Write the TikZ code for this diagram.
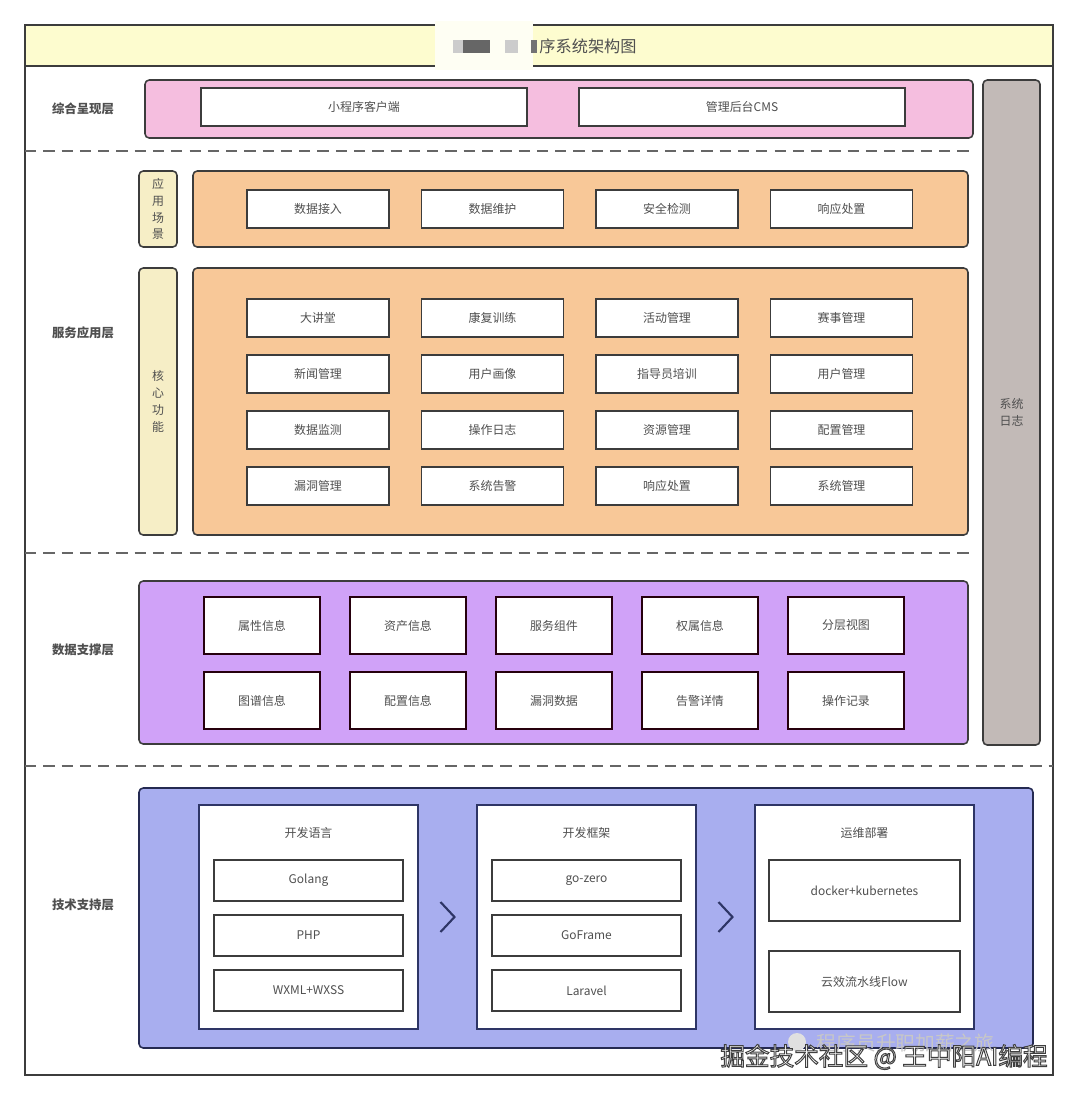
\documentclass[tikz,border=0pt]{standalone}
\usepackage{fontspec}
\setmainfont{Noto Sans CJK SC}
\usepackage{xcolor}
\usepackage{tikz}
\usetikzlibrary{positioning,calc}
\definecolor{linec}{HTML}{3C3C3C}
\definecolor{textc}{HTML}{4F4F4F}
\definecolor{titlebg}{HTML}{FDFCCF}
\definecolor{pinkbg}{HTML}{F5BEDF}
\definecolor{orangebg}{HTML}{F8C898}
\definecolor{sidebg}{HTML}{F6EEC6}
\definecolor{logbg}{HTML}{C2BAB7}
\definecolor{purplebg}{HTML}{D0A2F8}
\definecolor{bluebg}{HTML}{A8AEEF}
\definecolor{navy}{HTML}{2E3566}
\newcommand{\pxu}{0.025cm}
% outlined text: fill with the current colour, stroke in dark grey
\newcommand{\outlined}[1]{\special{pdf:literal direct 2 Tr 0.7 w 0.25 G}#1\special{pdf:literal direct 0 Tr}}
\tikzset{
	box/.style 2 args = {minimum width=#1*\pxu, minimum height=#2*\pxu, inner sep=0pt, outer sep=0pt},
	base/.style = {draw=linec, line width=1.1pt, font=\fontsize{8.5}{12}\selectfont, text=textc},
	layer/.style = {base, rounded corners=3pt},
	item/.style = {base, fill=white},
	side/.style = {layer, fill=sidebg, align=center},
	label/.style = {font=\bfseries\fontsize{8.8}{11}\selectfont, text=textc},
	ptitle/.style = {font=\fontsize{8.5}{12}\selectfont, text=textc, box={120}{20}},
	sep/.style = {draw=black!60, line width=0.9pt, dash pattern=on 8pt off 5pt},
	chev/.style = {draw=navy, line width=1.5pt},
	wm/.style = {font=\fontsize{17.5}{20}\selectfont, inner sep=0pt}
}

\begin{document}
\begin{tikzpicture}[x=\pxu, y=-\pxu]
	\useasboundingbox (0,0) rectangle (1080,1101);

	% outer frame and title bar
	\node[draw=linec, line width=1.1pt, box={1028}{1050}, anchor=north west] (frame) at (25,25) {};
	\node[draw=linec, line width=1.1pt, fill=titlebg, box={1028}{41}, anchor=north west] (titlebar) at (25,25) {};
	% blurred part of the title
	\fill[titlebg!25] (435,21) rectangle (533,70);
	\fill[black!20] (453,40) rectangle (463,53);
	\fill[black!60] (463,40) rectangle (490,53);
	\fill[black!20] (505,40) rectangle (518,53);
	\fill[black!55] (531,40) rectangle (537,53);
	\node[font=\fontsize{11.5}{14}\selectfont, text=textc] (title) at (588,46) {序系统架构图};

	% layer names
	\node[label] (l-show) at (83,109) {综合呈现层};
	\node[label] (l-app) at (83,333) {服务应用层};
	\node[label] (l-data) at (83,650) {数据支撑层};
	\node[label] (l-tech) at (83,905) {技术支持层};

	% separators
	\draw[sep] (25,151) -- (970,151);
	\draw[sep] (25,553) -- (970,553);
	\draw[sep] (25,766) -- (1053,766);

	% system log column
	\node[layer, fill=logbg, box={57}{665}, align=center] (syslog) at (1011.5,412.5) {系统\\日志};

	% presentation layer
	\node[layer, fill=pinkbg, box={828}{58}] (show) at (559,109) {};
	\node[item, box={326}{38}] (client) at (364,107) {小程序客户端};
	\node[item, box={326}{38}] (cms) at (742,107) {管理后台CMS};

	% application scenes
	\node[side, box={38}{76}] (scene-tag) at (158,209) {应\\用\\场\\景};
	\node[layer, fill=orangebg, box={775}{76}] (scene) at (580.5,209) {};
	\foreach \t [count=\c] in {数据接入,数据维护,安全检测,响应处置}
		\node[item, box={142}{38}] (scene-\c) at (318+174.5*\c-174.5,209) {\t};

	% core functions
	\node[side, box={38}{267}] (core-tag) at (158,401.5) {核\\心\\功\\能};
	\node[layer, fill=orangebg, box={775}{267}] (core) at (580.5,401.5) {};
	\foreach \r/\row in {1/{大讲堂,康复训练,活动管理,赛事管理},
		2/{新闻管理,用户画像,指导员培训,用户管理},
		3/{数据监测,操作日志,资源管理,配置管理},
		4/{漏洞管理,系统告警,响应处置,系统管理}}
		\foreach \t [count=\c] in \row
			\node[item, box={142}{38}] (core-\r-\c) at (318+174.5*\c-174.5,262+56*\r) {\t};

	% data layer
	\node[layer, fill=purplebg, box={829}{163}] (data) at (553.5,662.5) {};
	\foreach \r/\row in {1/{属性信息,资产信息,服务组件,权属信息,分层视图},
		2/{图谱信息,配置信息,漏洞数据,告警详情,操作记录}}
		\foreach \t [count=\c] in \row
			\node[item, draw=black!80!purple, box={116}{57}] (data-\r-\c) at (116+146*\c,550.5+75*\r) {\t};

	% technology layer
	\node[layer, fill=bluebg, draw=navy!80!black, box={894}{260}] (tech) at (586,918) {};
	\node[item, draw=navy, box={219}{224}] (lang) at (308.5,917) {};
	\node[item, draw=navy, box={219}{224}] (fw) at (586.5,917) {};
	\node[item, draw=navy, box={219}{224}] (ops) at (864.5,917) {};

	\node[ptitle] (lang-t) at ($(lang.north)+(0,28)$) {开发语言};
	\node[item, box={189}{41}, below=0.425cm of lang-t] (golang) {Golang};
	\node[item, box={189}{41}, below=0.35cm of golang] (php) {PHP};
	\node[item, box={189}{41}, below=0.35cm of php] (wx) {WXML+WXSS};

	\node[ptitle] (fw-t) at ($(fw.north)+(0,28)$) {开发框架};
	\node[item, box={189}{41}, below=0.425cm of fw-t] (gozero) {go-zero};
	\node[item, box={189}{41}, below=0.35cm of gozero] (goframe) {GoFrame};
	\node[item, box={189}{41}, below=0.35cm of goframe] (laravel) {Laravel};

	\node[ptitle] (ops-t) at ($(ops.north)+(0,28)$) {运维部署};
	\node[item, box={191}{61}, below=0.425cm of ops-t] (k8s) {docker+kubernetes};
	\node[item, box={191}{61}, below=0.75cm of k8s] (flow) {云效流水线Flow};

	% chevrons between panels
	\draw[chev] ($(lang.east)!.5!(fw.west)+(-7,-15)$) -- ++(14,15) -- ++(-14,15);
	\draw[chev] ($(fw.east)!.5!(ops.west)+(-7,-15)$) -- ++(14,15) -- ++(-14,15);

	% watermark
	\node[circle, fill=black!12, minimum size=18*\pxu] (wm-icon) at (797,1042) {};
	\node[font=\fontsize{14}{16}\selectfont, text=black!22, anchor=west] (wm-sub) at (812,1043) {程序员升职加薪之旅};
	\node[wm, text=white] (wm) at (884,1057) {\outlined{掘金技术社区 @ 王中阳AI编程}};
\end{tikzpicture}
\end{document}
